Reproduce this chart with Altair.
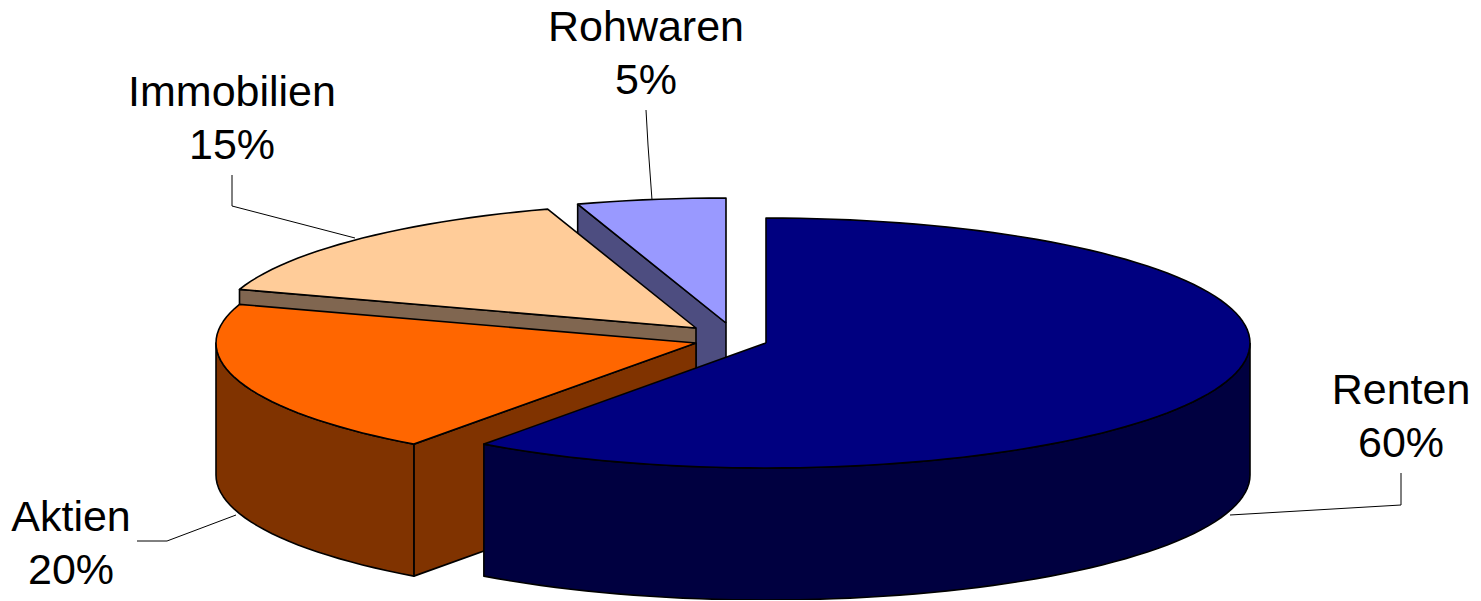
import math
import altair as alt

categories = ["Renten", "Aktien", "Immobilien", "Rohwaren"]
shares = [60, 20, 15, 5]
percent_labels = ["60%", "20%", "15%", "5%"]

top_colors = ["#000080", "#FF6600", "#FFCC99", "#9999FF"]
side_colors = ["#000040", "#803300", "#806650", "#4D4D80"]

# layout of the tilted pie, in picture pixels
RX_RIGHT, RX_LEFT, RY, DEPTH = 484, 480, 125, 132
apexes = {"Renten": (766, 343), "Aktien": (696, 343), "Immobilien": (696, 328), "Rohwaren": (726, 323)}
label_pos = {"Renten": (1401, 404), "Aktien": (71, 531), "Immobilien": (232, 106), "Rohwaren": (646, 41)}
leaders = {
    "Renten": [(1401, 473), (1401, 505), (1230, 515)],
    "Aktien": [(137, 541), (167, 541), (236, 515)],
    "Immobilien": [(232, 175), (232, 206), (355, 238)],
    "Rohwaren": [(646, 110), (648, 145), (652, 200)],
}

W, H = 1465, 592
x_scale = alt.Scale(domain=[8, 8 + W], nice=False, zero=False)
y_scale = alt.Scale(domain=[8 + H, 8], nice=False, zero=False)


def rim(cat, a0, a1):
    cx, cy = apexes[cat]
    n = max(2, int(abs(a1 - a0) / 2))
    out = []
    for i in range(n + 1):
        t = math.radians(a0 + (a1 - a0) * i / n)
        s = math.sin(t)
        out.append((cx + (RX_RIGHT if s > 0 else RX_LEFT) * s, cy - RY * math.cos(t)))
    return out


def poly(points, fill):
    pts = list(points) + [points[0]]
    rows = [{"x": p[0], "y": p[1], "i": i} for i, p in enumerate(pts)]
    return (
        alt.Chart(alt.Data(values=rows))
        .mark_line(fill=fill, stroke="#000000", strokeWidth=1.6, strokeJoin="round", interpolate="linear")
        .encode(
            x=alt.X("x:Q", scale=x_scale, axis=None),
            y=alt.Y("y:Q", scale=y_scale, axis=None),
            order="i:Q",
        )
    )


angles = {}
acc = 0
for c, s in zip(categories, shares):
    angles[c] = (acc * 3.6, (acc + s) * 3.6)
    acc += s


def down(points):
    return [(x, y + DEPTH) for x, y in points]


layers = []
for cat in ["Rohwaren", "Immobilien", "Aktien", "Renten"]:
    k = categories.index(cat)
    a0, a1 = angles[cat]
    apex = apexes[cat]
    r = rim(cat, a0, a1)
    side, top = side_colors[k], top_colors[k]
    # radial walls that can face the viewer
    if cat != "Renten":
        first = r[0]
        layers.append(poly([first, apex, (apex[0], apex[1] + DEPTH), (first[0], first[1] + DEPTH)], side))
    # outer curved wall: only the front half of the rim (90..270 degrees)
    f0, f1 = max(a0, 90), min(a1, 270)
    if f1 > f0:
        front = rim(cat, f0, f1)
        layers.append(poly(front + down(front)[::-1], side))
    layers.append(poly([apex] + r, top))

# leader lines
for cat, pts in leaders.items():
    rows = [{"x": p[0], "y": p[1], "i": i} for i, p in enumerate(pts)]
    layers.append(
        alt.Chart(alt.Data(values=rows))
        .mark_line(color="#000000", strokeWidth=1)
        .encode(
            x=alt.X("x:Q", scale=x_scale, axis=None),
            y=alt.Y("y:Q", scale=y_scale, axis=None),
            order="i:Q",
        )
    )

# labels
rows = []
for c, p in zip(categories, percent_labels):
    x, y = label_pos[c]
    rows.append({"x": x, "y": y, "t": c})
    rows.append({"x": x, "y": y + 53, "t": p})
layers.append(
    alt.Chart(alt.Data(values=rows))
    .mark_text(font="Liberation Sans", fontSize=43, color="#000000", align="center", baseline="alphabetic")
    .encode(
        x=alt.X("x:Q", scale=x_scale, axis=None),
        y=alt.Y("y:Q", scale=y_scale, axis=None),
        text="t:N",
    )
)

chart = (
    alt.layer(*layers)
    .properties(width=W, height=H, padding=0, background="#FFFFFF", autosize=alt.AutoSizeParams(type="none"))
    .configure_view(stroke=None)
)
chart.save("out.html", embed_options={"renderer": "svg", "actions": False})
